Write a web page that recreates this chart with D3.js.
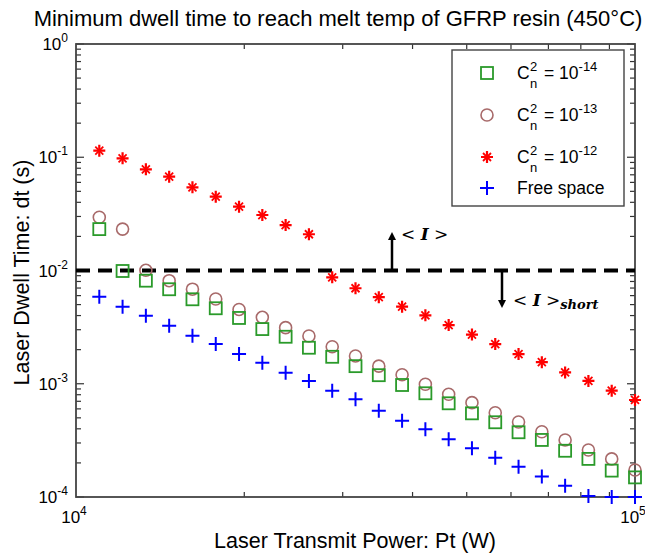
<!DOCTYPE html>
<html>
<head>
<meta charset="utf-8">
<script src="https://cdn.jsdelivr.net/npm/d3@7"></script>
<style>
  body { margin: 0; background: #fff; }
  svg { font-family: "Liberation Sans", Arial, sans-serif; }
</style>
</head>
<body>
<div id="container"></div>
<script>
const w = 645;
const h = 558;
const padLeft = 76, padRight = 635, padTop = 44, padBot = 497;

// transmit power (W), same for every series
const powerW = [11007, 12115, 13335, 14678, 16156, 17783, 19573, 21544, 23714, 26102, 28730, 31623,
  34807, 38312, 42170, 46416, 51090, 56234, 61897, 68129, 74989, 82540, 90852, 100000];

// dwell time (s)
const cn14 = [0.0232, 0.0099, 0.00813, 0.00683, 0.00557, 0.00464, 0.00381, 0.00304, 0.0026, 0.00208, 0.00173, 0.00143,
  0.00119, 0.000975, 0.000824, 0.000672, 0.000548, 0.000457, 0.000373, 0.000319, 0.000256, 0.000217, 0.000171, 0.000149];
const cn13 = [0.0295, 0.0232, 0.01004, 0.00813, 0.00684, 0.0056, 0.00453, 0.00386, 0.00313, 0.00264, 0.00212, 0.00176,
  0.00143, 0.0012, 0.000989, 0.000807, 0.000681, 0.000555, 0.000459, 0.000377, 0.000319, 0.00026, 0.000217, 0.000173];
const cn12 = [0.1143, 0.0979, 0.0783, 0.0674, 0.0543, 0.0449, 0.0366, 0.0309, 0.0252, 0.0209, 0.00871, 0.00697,
  0.00581, 0.00479, 0.00402, 0.0033, 0.00272, 0.00224, 0.00183, 0.00155, 0.00126, 0.00106, 0.000868, 0.000719];
const freeSpace = [0.00587, 0.00479, 0.00399, 0.00326, 0.00266, 0.00224, 0.00183, 0.00153, 0.00125, 0.00106, 0.000868, 0.000729,
  0.000577, 0.000471, 0.000396, 0.000323, 0.000269, 0.000222, 0.000185, 0.000152, 0.000126, 0.000102, 0.0001, 0.0001];

const threshold = 0.01;
const yTickExp = [0, -1, -2, -3, -4];
const xTickExp = [4, 5];

const svg = d3.select('#container').append('svg')
    .attr('width', w)
    .attr('height', h);

const x = d3.scaleLog().domain([1e4, 1e5]).range([padLeft, padRight]);
const y = d3.scaleLog().domain([1e-4, 1]).range([padBot, padTop]);

// minor ticks on all four sides (pointing inward)
const yMinor = [];
for (let e = -4; e < 0; e++) for (let m = 2; m <= 9; m++) yMinor.push(m * Math.pow(10, e));
const xMinor = [];
for (let m = 2; m <= 9; m++) xMinor.push(m * 1e4);
const yAll = yMinor.concat(yTickExp.map(e => Math.pow(10, e)));

const ticks = svg.append('g').attr('stroke', '#333').attr('stroke-width', 1.2);
ticks.selectAll('.yl').data(yAll).enter().append('line')
    .attr('x1', padLeft).attr('x2', (d, i) => padLeft + (i < yMinor.length ? 5 : 8))
    .attr('y1', d => y(d)).attr('y2', d => y(d));
ticks.selectAll('.yr').data(yAll).enter().append('line')
    .attr('x1', padRight).attr('x2', (d, i) => padRight - (i < yMinor.length ? 5 : 8))
    .attr('y1', d => y(d)).attr('y2', d => y(d));
ticks.selectAll('.xb').data(xMinor).enter().append('line')
    .attr('x1', d => x(d)).attr('x2', d => x(d))
    .attr('y1', padBot).attr('y2', padBot - 5);
ticks.selectAll('.xt').data(xMinor).enter().append('line')
    .attr('x1', d => x(d)).attr('x2', d => x(d))
    .attr('y1', padTop).attr('y2', padTop + 5);

// frame
svg.append('rect')
    .attr('x', padLeft).attr('y', padTop)
    .attr('width', padRight - padLeft).attr('height', padBot - padTop)
    .attr('fill', 'none').attr('stroke', '#444').attr('stroke-width', 1.8);

// tick labels 10^n
function powLabel(g, px, py, e, anchor) {
  const t = g.append('text').attr('x', px).attr('y', py).attr('font-size', 17).attr('text-anchor', anchor);
  t.append('tspan').text('10');
  t.append('tspan').attr('dy', -8).attr('font-size', 12).text(e);
}
const labels = svg.append('g').attr('fill', '#000');
yTickExp.forEach(e => powLabel(labels, padLeft - 8, y(Math.pow(10, e)) + 6, e, 'end'));
xTickExp.forEach(e => powLabel(labels, x(Math.pow(10, e)) - 2, padBot + 26, e, 'middle'));

// title and axis labels
svg.append('text').attr('x', 338).attr('y', 26).attr('text-anchor', 'middle')
    .attr('font-size', 22).text('Minimum dwell time to reach melt temp of GFRP resin (450°C)');
svg.append('text').attr('x', 355).attr('y', 548).attr('text-anchor', 'middle')
    .attr('font-size', 21.5).text('Laser Transmit Power: Pt (W)');
svg.append('text').attr('transform', `translate(29,${(padTop + padBot) / 2 + 2}) rotate(-90)`)
    .attr('text-anchor', 'middle').attr('font-size', 21.5).text('Laser Dwell Time: dt (s)');

// threshold line and arrows
svg.append('line')
    .attr('x1', padLeft).attr('x2', padRight)
    .attr('y1', y(threshold)).attr('y2', y(threshold))
    .attr('stroke', '#000').attr('stroke-width', 4).attr('stroke-dasharray', '14,8');

svg.append('defs').append('marker').attr('id', 'ah')
    .attr('viewBox', '0 0 10 10').attr('refX', 5).attr('refY', 5)
    .attr('markerWidth', 3.2).attr('markerHeight', 4).attr('orient', 'auto')
    .append('path').attr('d', 'M0,0 L10,5 L0,10 z').attr('fill', '#000');

svg.append('line').attr('x1', 392).attr('x2', 392).attr('y1', y(threshold)).attr('y2', 236)
    .attr('stroke', '#000').attr('stroke-width', 2.5).attr('marker-end', 'url(#ah)');
svg.append('line').attr('x1', 502).attr('x2', 502).attr('y1', y(threshold)).attr('y2', 304)
    .attr('stroke', '#000').attr('stroke-width', 2.5).attr('marker-end', 'url(#ah)');

const serif = '"DejaVu Serif", "Liberation Serif", serif';
const lab1 = svg.append('text').attr('x', 401).attr('y', 240).attr('font-family', serif).attr('font-size', 17);
lab1.append('tspan').text('< ');
lab1.append('tspan').attr('font-style', 'italic').attr('font-weight', 'bold').text('I');
lab1.append('tspan').text(' >');
const lab2 = svg.append('text').attr('x', 513).attr('y', 306).attr('font-family', serif).attr('font-size', 17);
lab2.append('tspan').text('< ');
lab2.append('tspan').attr('font-style', 'italic').attr('font-weight', 'bold').text('I');
lab2.append('tspan').text(' >');
lab2.append('tspan').attr('dy', 3).attr('font-size', 13).attr('font-style', 'italic').attr('font-weight', 'bold').text('short');

// markers
const green = '#2a9a2a', brown = '#a86a6a', red = '#ff0000', blue = '#0000ff';
function drawSquare(g, cx, cy) {
  g.append('rect').attr('x', cx - 6).attr('y', cy - 6).attr('width', 12).attr('height', 12)
      .attr('fill', 'none').attr('stroke', green).attr('stroke-width', 1.8);
}
function drawCircle(g, cx, cy) {
  g.append('circle').attr('cx', cx).attr('cy', cy).attr('r', 6)
      .attr('fill', 'none').attr('stroke', brown).attr('stroke-width', 1.6);
}
function drawStar(g, cx, cy) {
  const s = g.append('g').attr('transform', `translate(${cx},${cy})`)
      .attr('stroke', red).attr('stroke-width', 2.2).attr('fill', 'none');
  s.append('path').attr('d', 'M-6,0H6M0,-6V6');
  s.append('path').attr('stroke-width', 1.8).attr('d', 'M-4,-4L4,4M-4,4L4,-4');
}
function drawPlus(g, cx, cy) {
  g.append('path').attr('transform', `translate(${cx},${cy})`)
      .attr('d', 'M-7,0H7M0,-7V7').attr('stroke', blue).attr('stroke-width', 2).attr('fill', 'none');
}

const pts = svg.append('g');
powerW.forEach((p, i) => {
  drawCircle(pts, x(p), y(cn13[i]));
  drawSquare(pts, x(p), y(cn14[i]));
  drawStar(pts, x(p), y(cn12[i]));
  drawPlus(pts, x(p), y(freeSpace[i]));
});

// legend
const legend = svg.append('g');
legend.append('rect').attr('x', 452).attr('y', 50).attr('width', 172).attr('height', 156)
    .attr('fill', '#fff').attr('stroke', '#444').attr('stroke-width', 1.4);
const legendExp = ['-14', '-13', '-12'];
const legendDraw = [drawSquare, drawCircle, drawStar];
legendExp.forEach((e, i) => {
  const cy = 73 + i * 42;
  legendDraw[i](legend, 487, cy);
  const bx = 517, by = cy + 6;
  legend.append('text').attr('x', bx).attr('y', by).attr('font-size', 17.5).text('C');
  legend.append('text').attr('x', bx + 13).attr('y', by - 8).attr('font-size', 13).text('2');
  legend.append('text').attr('x', bx + 13).attr('y', by + 9).attr('font-size', 13).text('n');
  const t = legend.append('text').attr('x', bx + 27).attr('y', by).attr('font-size', 17.5);
  t.append('tspan').text('= 10');
  t.append('tspan').attr('dy', -8).attr('font-size', 13).text(e);
});
drawPlus(legend, 487, 188);
legend.append('text').attr('x', 517).attr('y', 194).attr('font-size', 17.5).text('Free space');
</script>
</body>
</html>
